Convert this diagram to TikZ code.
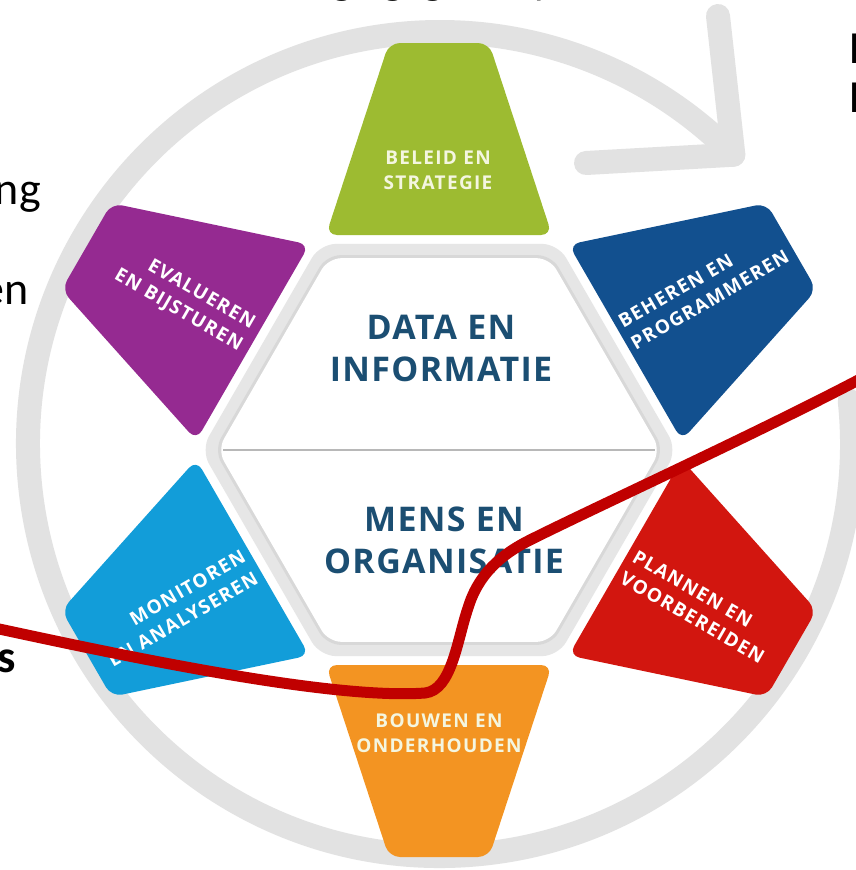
\documentclass[tikz,border=0pt]{standalone}
\usepackage{fontspec}
\usetikzlibrary{shapes.geometric}
\setmainfont{Carlito}
\newfontfamily\petalfont[LetterSpace=7]{Open Sans}
\newfontfamily\hexfont[LetterSpace=4]{Open Sans}
\definecolor{ringgray}{HTML}{E2E2E2}
\definecolor{framegray}{HTML}{E6E6E6}
\definecolor{framedark}{HTML}{D8D8D8}
\definecolor{divgray}{HTML}{B8B8B8}
\definecolor{hexblue}{HTML}{1B4E72}
\definecolor{cgreen}{HTML}{9DBB31}
\definecolor{cblue}{HTML}{12508F}
\definecolor{cred}{HTML}{D2160F}
\definecolor{corange}{HTML}{F39422}
\definecolor{ccyan}{HTML}{129DD9}
\definecolor{cpurple}{HTML}{952A91}
\definecolor{redline}{HTML}{C00000}
\definecolor{greentext}{HTML}{F4F6E0}
\begin{document}
\begin{tikzpicture}[x=1pt,y=-1pt,
  ring/.style={draw=ringgray, line width=24pt, line cap=round, line join=round},
  petal/.style={rounded corners=11pt},
  petaltext/.style={font=\petalfont\bfseries\fontsize{19}{25}\selectfont, text=white, inner sep=0pt},
  hextext/.style={font=\hexfont\bfseries\fontsize{34}{42}\selectfont, text=hexblue, align=center, inner sep=0pt},
  sidetext/.style={font=\fontsize{46}{55}\selectfont, text=black, inner sep=0pt},
  curve/.style={draw=redline, line width=11pt, line cap=round}]
\useasboundingbox (0,0) rectangle (856,870);
\clip (0,0) rectangle (856,870);
\fill[white] (0,0) rectangle (856,870);
% ring with arrow
\coordinate (ringc) at (440,444);
\draw[ring] ([shift={(6:412pt)}]ringc) arc[start angle=6, end angle=-315.4, radius=412pt] coordinate (arrtip);
\coordinate (arrtop) at (718,16);
\coordinate (arrleft) at (586,163);
\draw[ring] (arrtop) -- (arrtip) -- (arrleft);
% central hexagon
\node[regular polygon, regular polygon sides=6, minimum size=476pt, inner sep=0pt, fill=framegray, rounded corners=16pt] (hexframe) at (439,450) {};
\node[regular polygon, regular polygon sides=6, minimum size=450pt, inner sep=0pt, fill=framedark, rounded corners=14pt] (hexedge) at (439,450) {};
\node[regular polygon, regular polygon sides=6, minimum size=443pt, inner sep=0pt, fill=white, rounded corners=13pt] (hex) at (439,450) {};
\draw[divgray, line width=1.5pt] ([xshift=6pt]hex.west) -- ([xshift=-6pt]hex.east);
% petals
\foreach \rot/\col in {0/cgreen, -60/cblue, -120/cred, 180/corange, 120/ccyan, 60/cpurple} {
  \fill[\col, petal, shift={(439,450)}, rotate=\rot] (-113,-215) -- (113,-215) -- (50,-407) -- (-50,-407) -- cycle;
}
% petal texts
\node[petaltext, text=greentext, align=center] (tgreen) at (438,170) {BELEID EN\\STRATEGIE};
\node[petaltext, rotate=30, anchor=west, align=left] (tblue) at (626,334) {BEHEREN EN\\PROGRAMMEREN};
\node[petaltext, rotate=-30, anchor=west, align=left] (tred) at (628,566) {PLANNEN EN\\VOORBEREIDEN};
\node[petaltext, text=greentext, align=center] (torange) at (439,733) {BOUWEN EN\\ONDERHOUDEN};
\node[petaltext, rotate=30, anchor=east, align=right] (tcyan) at (250,566) {MONITOREN\\EN ANALYSEREN};
\node[petaltext, rotate=-30, anchor=east, align=right] (tpurple) at (247,336) {EVALUEREN\\EN BIJSTUREN};
% hexagon texts
\node[hextext] (data) at (441,348) {DATA EN\\INFORMATIE};
\node[hextext] (mens) at (444,540) {MENS EN\\ORGANISATIE};
% cropped slide text fragments
\node[sidetext, anchor=base] (g1) at (342,-6) {g};
\node[sidetext, anchor=base] (g2) at (393,-6) {g};
\node[sidetext, anchor=base] (g3) at (433,-6) {g};
\node[sidetext, anchor=base] (y1) at (543,-6) {y};
\node[sidetext, anchor=base east] (ng) at (41,204) {ng};
\node[sidetext, anchor=base east] (en) at (29,304) {en};
\node[sidetext, anchor=base east, font=\bfseries\fontsize{46}{55}\selectfont] (s) at (16,672) {s};
\node[sidetext, anchor=base west] (D) at (849,63) {D};
\node[sidetext, anchor=base west] (F) at (849,112) {F};
% red line
\draw[curve] (-10,627) .. controls (120,655) and (330,700) .. (425,693)
  .. controls (452,690) and (457,640) .. (468,608)
  .. controls (478,575) and (500,555) .. (530,540)
  .. controls (600,505) and (760,432) .. (866,376);
\end{tikzpicture}
\end{document}
